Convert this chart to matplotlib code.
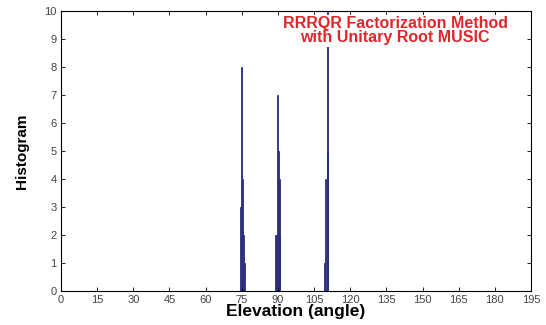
import matplotlib.pyplot as plt
import numpy as np

# Histogram bins (elevation angle) and counts
elevation = [74.5, 75.0, 75.3, 75.6, 76.0,
             89.0, 89.5, 89.9, 90.2, 90.5, 90.8,
             109.5, 109.9, 110.4, 110.6]
counts = [3, 8, 4, 2, 1,
          2, 2, 7, 5, 4, 2,
          1, 4, 10, 5]

x_ticks = list(range(0, 196, 15))
y_ticks = list(range(0, 11))

plt.rcParams['font.family'] = ['Liberation Sans', 'DejaVu Sans']

fig = plt.figure(figsize=(5.46, 3.25), dpi=100)
ax = fig.add_axes([0.1117, 0.1046, 0.8608, 0.8614])

bar_color = '#2b2f7e'
ax.bar(elevation, counts, width=0.45, color=bar_color, edgecolor=bar_color,
       linewidth=0.6, align='center')

ax.set_xlim(0, 195)
ax.set_ylim(0, 10)
ax.set_xticks(x_ticks)
ax.set_yticks(y_ticks)
ax.tick_params(direction='in', top=True, right=True, length=3, width=0.6,
               labelsize=8, labelcolor='#444444', pad=3)
for s in ax.spines.values():
    s.set_linewidth(0.8)

ax.set_xlabel('Elevation (angle)', fontsize=12.5, fontweight='bold', labelpad=-1)
ax.set_ylabel('Histogram', fontsize=11, fontweight='bold', labelpad=11)

ax.text(0.711, 0.93, 'RRRQR Factorization Method\nwith Unitary Root MUSIC',
        transform=ax.transAxes, ha='center', va='center', color='#e0262a',
        fontsize=11.5, fontweight='bold', linespacing=0.95,
        bbox=dict(facecolor='white', edgecolor='none', pad=1))

fig.savefig('out.png', dpi=100)
